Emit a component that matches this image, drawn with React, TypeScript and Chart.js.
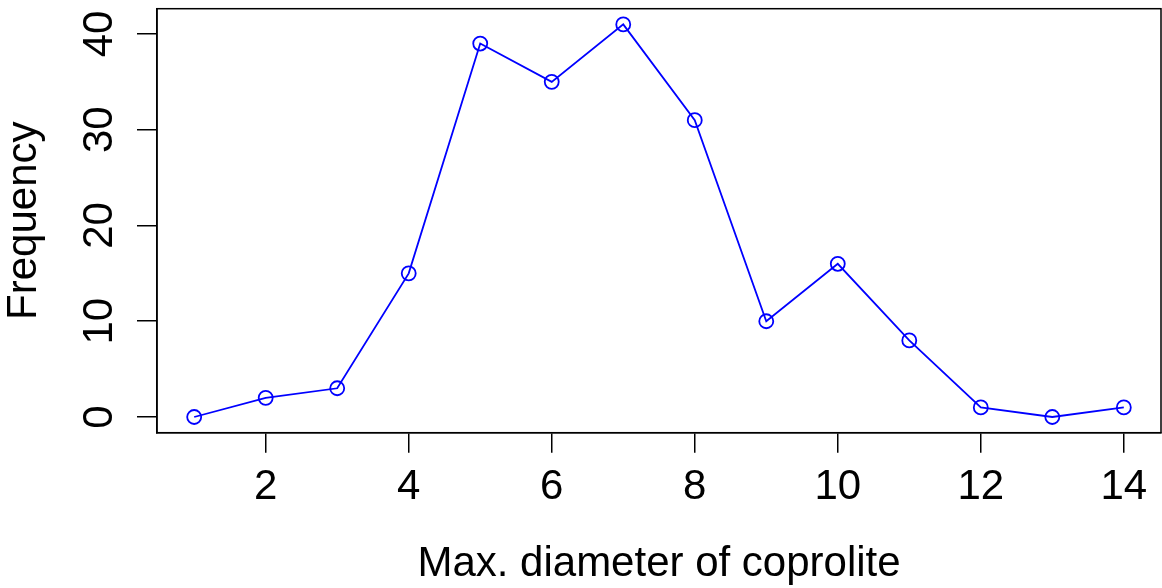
import React, { useEffect, useRef } from "react";
import { Chart, registerables } from "chart.js";

Chart.register(...registerables);

const diameters = [1, 2, 3, 4, 5, 6, 7, 8, 9, 10, 11, 12, 13, 14];
const frequencies = [0, 2, 3, 15, 39, 35, 41, 31, 10, 16, 8, 1, 0, 1];
const xTickValues = [2, 4, 6, 8, 10, 12, 14];
const yTickValues = [0, 10, 20, 30, 40];
const xTitle = "Max. diameter of coprolite";
const yTitle = "Frequency";

const FONT = "'Liberation Sans', Arial, Helvetica, sans-serif";
const W = 1162;
const H = 588;

const boxPlugin = {
  id: "rBox",
  afterDraw(chart: any) {
    const { ctx, chartArea } = chart;
    const ys = chart.scales.y;
    ctx.save();
    ctx.strokeStyle = "#000";
    ctx.lineWidth = 1.5;
    ctx.strokeRect(chartArea.left, chartArea.top, chartArea.right - chartArea.left, chartArea.bottom - chartArea.top);
    ctx.fillStyle = "#000";
    ctx.font = `42px ${FONT}`;
    ctx.textAlign = "center";
    ctx.textBaseline = "alphabetic";
    for (const v of yTickValues) {
      const py = ys.getPixelForValue(v);
      ctx.save();
      ctx.translate(112, py);
      ctx.rotate(-Math.PI / 2);
      ctx.fillText(String(v), 0, 0);
      ctx.restore();
    }
    ctx.restore();
  },
};

export default function App() {
  const ref = useRef<HTMLCanvasElement | null>(null);
  useEffect(() => {
    document.body.style.margin = "0";
    const canvas = ref.current!;
    const chart = new Chart(canvas, {
      type: "line",
      data: {
        datasets: [
          {
            data: diameters.map((d, i) => ({ x: d, y: frequencies[i] })),
            borderColor: "#0000ff",
            borderWidth: 1.8,
            pointRadius: 7,
            pointHoverRadius: 7,
            pointBorderColor: "#0000ff",
            pointBackgroundColor: "rgba(0,0,0,0)",
            pointBorderWidth: 1.8,
            tension: 0,
            fill: false,
            clip: false,
          },
        ],
      },
      options: {
        animation: false,
        responsive: false,
        events: [],
        layout: { autoPadding: false, padding: { top: 8.7, right: 1, left: 0, bottom: 0 } },
        plugins: { legend: { display: false }, tooltip: { enabled: false }, title: { display: false } },
        scales: {
          x: {
            type: "linear",
            min: 0.48,
            max: 14.52,
            afterBuildTicks: (s: any) => {
              s.ticks = xTickValues.map((v) => ({ value: v }));
            },
            afterFit: (s: any) => {
              s.height = H - 432.7;
            },
            grid: { display: true, drawOnChartArea: false, drawTicks: true, tickLength: 20, color: "#000", lineWidth: 1.5 },
            border: { display: true, color: "#000", width: 1.5 },
            ticks: {
              color: "#000",
              font: { family: FONT, size: 42, lineHeight: 1 },
              padding: 14,
              maxRotation: 0,
              minRotation: 0,
              autoSkip: false,
              callback: (v: any) => String(v),
            },
            title: {
              display: true,
              text: xTitle,
              color: "#000",
              font: { family: FONT, size: 42, lineHeight: 1 },
              padding: { top: 0, bottom: 3 },
            },
          },
          y: {
            type: "linear",
            min: -1.64,
            max: 42.64,
            afterBuildTicks: (s: any) => {
              s.ticks = yTickValues.map((v) => ({ value: v }));
            },
            afterFit: (s: any) => {
              s.width = 157;
            },
            grid: { display: true, drawOnChartArea: false, drawTicks: true, tickLength: 20, color: "#000", lineWidth: 1.5 },
            border: { display: true, color: "#000", width: 1.5 },
            ticks: { display: false },
            title: {
              display: true,
              text: yTitle,
              color: "#000",
              font: { family: FONT, size: 42, lineHeight: 1 },
              padding: { top: 3.5, bottom: 0 },
            },
          },
        },
      },
      plugins: [boxPlugin],
    } as any);
    return () => chart.destroy();
  }, []);
  return (
    <div style={{ width: W, height: H }}>
      <canvas ref={ref} width={W} height={H} style={{ width: W, height: H, display: "block" }} />
    </div>
  );
}
